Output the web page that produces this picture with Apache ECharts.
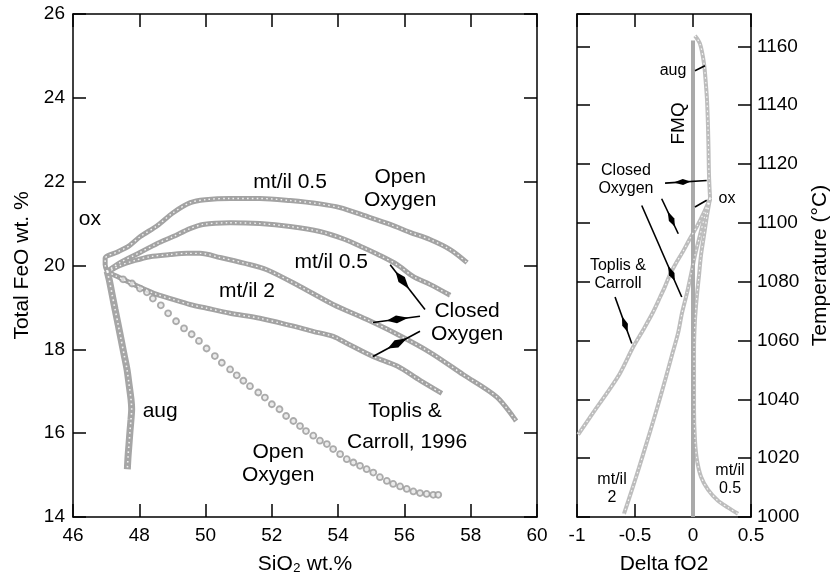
<!DOCTYPE html>
<html>
<head>
<meta charset="utf-8">
<script src="https://cdn.jsdelivr.net/npm/echarts@6/dist/echarts.min.js"></script>
<style>
html,body{margin:0;padding:0;background:#fff;}
#chart{width:835px;height:580px;}
</style>
</head>
<body>
<div id="chart"></div>
<script>
// ---------- Left panel: SiO2 wt.% vs Total FeO wt.% ----------
const siTicks = [46, 48, 50, 52, 54, 56, 58, 60];
const feoTicks = [14, 16, 18, 20, 22, 24, 26];

// Open oxygen, mt/il 0.5 (top curve, with "ox" step)
const openMtIl05 = [[47.03,19.86],[46.97,20.02],[46.97,20.17],[47.36,20.33],[47.66,20.45],[48.03,20.69],[48.54,20.95],[49.02,21.26],[49.54,21.5],[49.99,21.57],[50.74,21.6],[51.64,21.6],[52.55,21.55],[53.45,21.47],[54.06,21.38],[54.75,21.2],[55.57,20.98],[56.17,20.79],[56.77,20.62],[57.38,20.38],[57.89,20.07]];
// Closed oxygen, mt/il 0.5
const closedMtIl05 = [[47.03,19.86],[47.42,20.07],[48.02,20.31],[48.53,20.52],[49.02,20.69],[49.53,20.88],[49.92,20.98],[50.74,21.02],[51.64,21.0],[52.55,20.93],[53.45,20.81],[54.21,20.62],[54.75,20.43],[55.26,20.24],[55.78,20.02],[56.26,19.74],[56.77,19.55],[57.38,19.29]];
// Closed oxygen, mt/il 2 (upper)
const closedMtIl2a = [[47.03,19.83],[47.42,20.0],[47.87,20.12],[48.32,20.21],[48.93,20.26],[49.44,20.29],[49.83,20.29],[50.44,20.19],[51.19,20.05],[51.85,19.9],[52.85,19.5],[53.85,19.07],[54.87,18.71],[55.78,18.36],[56.77,17.93],[57.77,17.4],[58.79,16.86],[59.37,16.29]];
// Closed oxygen, mt/il 2 (lower)
const closedMtIl2b = [[47.03,19.86],[47.27,19.76],[47.51,19.67],[48.02,19.48],[48.53,19.31],[49.02,19.19],[49.53,19.07],[50.04,18.98],[50.74,18.86],[51.64,18.74],[52.55,18.57],[53.24,18.43],[53.85,18.31],[54.27,18.14],[55.05,17.83],[55.78,17.6],[56.47,17.26],[57.13,16.95]];
// Open oxygen (Toplis & Carroll), dotted
const openToplis = [[47.51,19.67],[47.78,19.57],[48.02,19.45],[48.23,19.36],[48.41,19.21],[48.65,19.05],[48.87,18.86],[49.11,18.67],[49.35,18.5],[49.58,18.36],[49.8,18.2],[50.03,18.02],[50.28,17.84],[50.49,17.68],[50.74,17.52],[50.94,17.38],[51.14,17.25],[51.34,17.12],[51.59,16.97],[51.79,16.85],[52.0,16.69],[52.23,16.57],[52.43,16.41],[52.65,16.29],[52.85,16.17],[53.03,16.05],[53.25,15.94],[53.45,15.82],[53.66,15.74],[53.85,15.62],[54.06,15.5],[54.26,15.38],[54.46,15.3],[54.66,15.22],[54.86,15.14],[55.06,15.06],[55.26,14.95],[55.47,14.86],[55.66,14.79],[55.87,14.73],[56.07,14.67],[56.27,14.61],[56.47,14.57],[56.67,14.55],[56.87,14.53],[57.02,14.53]];
// Augite trend
const augTrend = [[47.03,19.86],[47.09,19.67],[47.18,19.31],[47.27,18.95],[47.36,18.6],[47.45,18.24],[47.54,17.88],[47.63,17.52],[47.69,17.17],[47.75,16.81],[47.77,16.57],[47.75,16.33],[47.72,16.05],[47.69,15.74],[47.66,15.43],[47.64,15.14]];

// ---------- Right panel: Delta fO2 vs Temperature ----------
const dfo2Ticks = [-1, -0.5, 0, 0.5];
const tempTicks = [1000, 1020, 1040, 1060, 1080, 1100, 1120, 1140, 1160];
const fmqLine = [[0,1000],[0,1162]];
const augOx = [[0.017,1163.6],[0.06,1160.9],[0.095,1154.1],[0.112,1146.7],[0.121,1141.6],[0.129,1133.1],[0.134,1124.6],[0.138,1116.2],[0.147,1108.3]];
const toplisT = [[0.147,1108.3],[0.095,1103.6],[0.034,1098.8],[-0.026,1094.7],[-0.086,1090.3],[-0.147,1086.3],[-0.198,1082.5],[-0.241,1078.4],[-0.284,1074.7],[-0.345,1069.6],[-0.431,1063.5],[-0.517,1057.7],[-0.629,1048.9],[-0.741,1042.2],[-0.862,1035.4],[-0.99,1028.0]];
const mtil2T = [[0.147,1108.3],[0.103,1102.5],[0.06,1095.8],[0.017,1089.0],[-0.017,1082.5],[-0.052,1076.1],[-0.095,1069.3],[-0.129,1062.5],[-0.181,1055.1],[-0.233,1047.6],[-0.284,1040.5],[-0.345,1032.3],[-0.405,1024.5],[-0.466,1016.7],[-0.526,1009.3],[-0.595,1001.1]];
const mtil05T = [[0.147,1108.3],[0.121,1102.5],[0.095,1095.8],[0.069,1089.0],[0.052,1082.2],[0.034,1075.4],[0.017,1066.9],[0.009,1056.8],[0.009,1046.6],[0.009,1036.4],[0.017,1026.2],[0.034,1019.4],[0.069,1013.7],[0.129,1009.3],[0.216,1005.5],[0.302,1003.2],[0.388,1001.1]];

// ---------- Annotations (text + arrows) in data coordinates ----------
const leftLabels = [
  {name:'ox', value:[46.51,21.1]},
  {name:'mt/il 0.5', value:[52.55,21.98]},
  {name:'Open\nOxygen', value:[55.87,21.83]},
  {name:'mt/il 0.5', value:[53.79,20.07]},
  {name:'mt/il 2', value:[51.25,19.38]},
  {name:'Closed\nOxygen', value:[57.89,18.64]},
  {name:'aug', value:[48.63,16.52]},
  {name:'Toplis &', value:[56.02,16.52]},
  {name:'Carroll, 1996', value:[56.08,15.79]},
  {name:'Open\nOxygen', value:[52.19,15.26]}
];
const rightLabels = [
  {name:'aug', value:[-0.172,1151.7]},
  {name:'FMQ', value:[-0.121,1133.8]},
  {name:'Closed\nOxygen', value:[-0.578,1114.8]},
  {name:'ox', value:[0.293,1108.3]},
  {name:'Toplis &\nCarroll', value:[-0.647,1082.5]},
  {name:'mt/il\n2', value:[-0.698,1009.6]},
  {name:'mt/il\n0.5', value:[0.319,1012.6]}
];
// [x1, y1, x2, y2, kite position fraction (0 = none)]
const leftArrows = [
  [56.62,18.95,55.57,20.02,0.67],
  [56.47,18.79,55.05,18.64,0.5],
  [56.47,18.43,55.05,17.83,0.5]
];
const rightArrows = [
  [0.017,1151.7,0.103,1153.4,0],
  [0.017,1105.4,0.118,1107.7,0],
  [-0.241,1113.5,0.118,1114.4,0.43],
  [-0.27,1108.2,-0.127,1096.3,0.6],
  [-0.442,1105.9,-0.097,1074.8,0.75],
  [-0.672,1074.8,-0.528,1059.0,0.6]
];

const FONT = "'Liberation Sans', Arial, Helvetica, sans-serif";
const chart = echarts.init(document.getElementById('chart'), null, {renderer:'canvas'});

function arrowRenderer(kLen, kWid) {
  return function(params, api) {
    const p1 = api.coord([api.value(0), api.value(1)]);
    const p2 = api.coord([api.value(2), api.value(3)]);
    const f = api.value(4);
    const children = [{
      type:'line', shape:{x1:p1[0], y1:p1[1], x2:p2[0], y2:p2[1]},
      style:{stroke:'#000', lineWidth:1.6}
    }];
    if (f > 0) {
      const dx = p2[0]-p1[0], dy = p2[1]-p1[1];
      const len = Math.sqrt(dx*dx+dy*dy);
      const ux = dx/len, uy = dy/len, nx = -uy, ny = ux;
      const cx = p1[0]+dx*f, cy = p1[1]+dy*f;
      children.push({
        type:'polygon',
        shape:{points:[
          [cx-ux*kLen*0.55, cy-uy*kLen*0.55],
          [cx+nx*kWid/2, cy+ny*kWid/2],
          [cx+ux*kLen*0.45, cy+uy*kLen*0.45],
          [cx-nx*kWid/2, cy-ny*kWid/2]
        ]},
        style:{fill:'#000'}
      });
    }
    return {type:'group', children:children};
  };
}

function textRenderer(list, size, lineH) {
  return function(params, api) {
    const item = list[params.dataIndex];
    const p = api.coord([api.value(0), api.value(1)]);
    const rot = item.name === 'FMQ';
    return {
      type:'text', x:p[0], y:p[1], rotation: rot ? Math.PI/2 : 0,
      style:{
        text:item.name, fill:'#000', align:'center', verticalAlign:'middle',
        font:(rot ? 19 : size) + 'px ' + FONT, lineHeight:lineH
      }
    };
  };
}

const axisLineStyle = {show:true, onZero:false, lineStyle:{color:'#000', width:1.5}};
const tickIn = {show:true, inside:true, length:13, lineStyle:{color:'#000', width:1.5}};
const lblStyle = {color:'#000', fontSize:19, fontFamily:FONT};
const nameStyle = {color:'#000', fontSize:21, fontFamily:FONT};

function chain(name, xi, yi, data, w, c, texture) {
  const out = [{type:'line', name:name, xAxisIndex:xi, yAxisIndex:yi, data:data, smooth:0.3, showSymbol:false,
    lineStyle:{width:w, color:c}, z:2}];
  if (texture) {
    out.push({type:'line', name:name + ' texture', xAxisIndex:xi, yAxisIndex:yi, data:data, smooth:0.3, showSymbol:false,
      lineStyle:{width:texture, color:'#ffffff', type:[1.6, 3.2], opacity:0.85}, z:3});
  }
  return out;
}

const option = {
  animation:false,
  backgroundColor:'#fff',
  grid:[
    {left:73, top:14, width:464, height:504},
    {left:577, top:14, width:174, height:503}
  ],
  xAxis:[
    {gridIndex:0, type:'value', position:'bottom', min:siTicks[0], max:siTicks[siTicks.length-1], interval:2,
     axisLine:axisLineStyle, axisTick:tickIn, splitLine:{show:false},
     axisLabel:Object.assign({margin:9}, lblStyle),
     name:'SiO\u2082 wt.%', nameLocation:'middle', nameGap:37, nameTextStyle:nameStyle},
    {gridIndex:0, type:'value', position:'top', min:siTicks[0], max:siTicks[siTicks.length-1], interval:2,
     axisLine:axisLineStyle, axisTick:tickIn, splitLine:{show:false}, axisLabel:{show:false}},
    {gridIndex:1, type:'value', position:'bottom', min:dfo2Ticks[0], max:dfo2Ticks[dfo2Ticks.length-1], interval:0.5,
     axisLine:axisLineStyle, axisTick:tickIn, splitLine:{show:false},
     axisLabel:Object.assign({margin:9, formatter:v => String(v)}, lblStyle),
     name:'Delta fO2', nameLocation:'middle', nameGap:37, nameTextStyle:nameStyle},
    {gridIndex:1, type:'value', position:'top', min:dfo2Ticks[0], max:dfo2Ticks[dfo2Ticks.length-1], interval:0.5,
     axisLine:axisLineStyle, axisTick:tickIn, splitLine:{show:false}, axisLabel:{show:false}}
  ],
  yAxis:[
    {gridIndex:0, type:'value', position:'left', min:feoTicks[0], max:feoTicks[feoTicks.length-1], interval:2,
     axisLine:axisLineStyle, axisTick:tickIn, splitLine:{show:false},
     axisLabel:Object.assign({margin:8}, lblStyle),
     name:'Total FeO wt. %', nameLocation:'middle', nameGap:37, nameRotate:90, nameTextStyle:nameStyle},
    {gridIndex:0, type:'value', position:'right', min:feoTicks[0], max:feoTicks[feoTicks.length-1], interval:2,
     axisLine:axisLineStyle, axisTick:tickIn, splitLine:{show:false}, axisLabel:{show:false}},
    {gridIndex:1, type:'value', position:'left', min:tempTicks[0], max:1171, interval:20,
     axisLine:axisLineStyle, axisTick:tickIn, splitLine:{show:false}, axisLabel:{show:false}},
    {gridIndex:1, type:'value', position:'right', min:tempTicks[0], max:1171, interval:20,
     axisLine:axisLineStyle, axisTick:tickIn, splitLine:{show:false},
     axisLabel:Object.assign({margin:6, showMaxLabel:false, formatter:v => (v % 20 === 0 ? String(v) : '')}, lblStyle),
     name:'Temperature (\u00B0C)', nameLocation:'middle', nameGap:59, nameRotate:90, nameTextStyle:nameStyle}
  ],
  series:[].concat(
    chain('Open Oxygen mt/il 0.5', 0, 0, openMtIl05, 5, '#a3a3a3', 1.4),
    chain('Closed Oxygen mt/il 0.5', 0, 0, closedMtIl05, 5, '#a3a3a3', 1.4),
    chain('Closed Oxygen mt/il 2 a', 0, 0, closedMtIl2a, 5, '#a3a3a3', 1.4),
    chain('Closed Oxygen mt/il 2 b', 0, 0, closedMtIl2b, 5, '#a3a3a3', 1.4),
    chain('aug', 0, 0, augTrend, 7, '#a6a6a6', 1.6),
    [{type:'scatter', name:'Open Oxygen Toplis', xAxisIndex:0, yAxisIndex:0, data:openToplis, symbol:'circle', symbolSize:6,
      itemStyle:{color:'#e6e6e6', borderColor:'#999', borderWidth:1.8}}],
    [{type:'line', name:'FMQ', xAxisIndex:2, yAxisIndex:2, data:fmqLine, showSymbol:false, lineStyle:{width:4, color:'#aaaaaa'}}],
    chain('aug-ox', 2, 2, augOx, 4, '#bdbdbd', 1.2),
    chain('Toplis T', 2, 2, toplisT, 4, '#bdbdbd', 1.2),
    chain('mt/il 2 T', 2, 2, mtil2T, 4, '#bdbdbd', 1.2),
    chain('mt/il 0.5 T', 2, 2, mtil05T, 4, '#bdbdbd', 1.2),
    [
      {type:'custom', name:'arrowsL', xAxisIndex:0, yAxisIndex:0, data:leftArrows, renderItem:arrowRenderer(22,8), encode:{x:[0,2], y:[1,3]}, silent:true, clip:false, z:5},
      {type:'custom', name:'arrowsR', xAxisIndex:2, yAxisIndex:2, data:rightArrows, renderItem:arrowRenderer(17,6), encode:{x:[0,2], y:[1,3]}, silent:true, clip:false, z:5},
      {type:'custom', name:'labelsL', xAxisIndex:0, yAxisIndex:0, data:leftLabels.map(d => d.value), renderItem:textRenderer(leftLabels, 21, 23), encode:{x:0, y:1}, silent:true, clip:false, z:6},
      {type:'custom', name:'labelsR', xAxisIndex:2, yAxisIndex:2, data:rightLabels.map(d => d.value), renderItem:textRenderer(rightLabels, 16, 18), encode:{x:0, y:1}, silent:true, clip:false, z:6}
    ]
  )
};
chart.setOption(option);
</script>
</body>
</html>
